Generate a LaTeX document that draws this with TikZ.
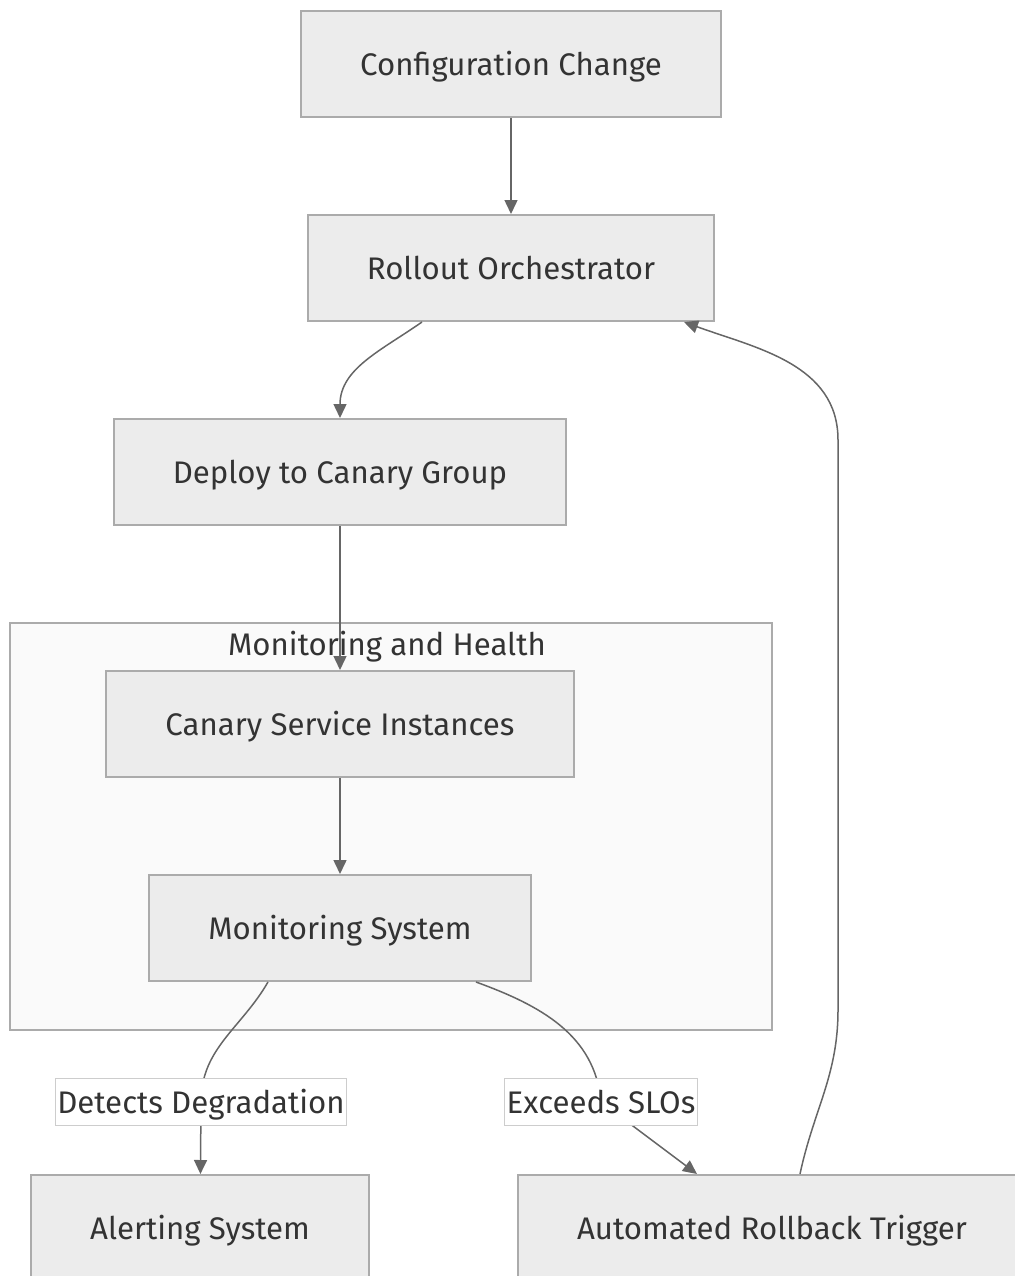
\documentclass[tikz,border=0pt]{standalone}
\usepackage{fontspec}
\setmainfont{Fira Sans}
\usetikzlibrary{positioning,arrows.meta}
\definecolor{boxfill}{HTML}{ECECEC}
\definecolor{boxline}{HTML}{ABABAB}
\definecolor{subfill}{HTML}{FAFAFA}
\definecolor{edge}{HTML}{666666}
\definecolor{ink}{HTML}{333333}
\begin{document}
\begin{tikzpicture}[main/.style = {draw=boxline, line width=2pt, fill=boxfill, text=ink,
            font=\fontsize{31.2}{37}\selectfont, inner xsep=59pt, minimum height=106pt,
            text height=28pt, text depth=5pt},
        lbl/.style = {draw=boxline!60, line width=1pt, fill=white, text=ink,
            font=\fontsize{31.2}{37}\selectfont, inner xsep=2pt, minimum height=47pt,
            text height=28pt, text depth=5pt},
        arr/.style = {draw=edge, line width=1.5pt, -{Triangle[length=14pt,width=13pt]}},
        node distance=204pt]
            \useasboundingbox (0,0) rectangle (1014pt,-1276pt);
            % subgraph
            \node[draw=boxline, line width=2pt, fill=subfill, minimum width=762pt,
                minimum height=407pt] (sub) at (391pt,-826.5pt) {};
            \node[text=ink, font=\fontsize{31.2}{37}\selectfont, below=6pt of sub.north,
                xshift=-4pt] {Monitoring and Health};
            \node[main] (1) at (511pt,-64pt) {Configuration Change};
            \node[main] (2) [below of=1] {Rollout Orchestrator};
            \node[main] (3) [below of=2, xshift=-171pt] {Deploy to Canary Group};
            \node[main] (4) [below of=3, yshift=-48pt] {Canary Service Instances};
            \node[main] (5) [below of=4] {Monitoring System};
            \node[main] (6) [below of=5, xshift=-140pt, yshift=-96pt] {Alerting System};
            \node[main] (7) [below of=5, xshift=432pt, yshift=-96pt] {Automated Rollback Trigger};
            \draw[arr] (1) -- (2);
            \draw[arr] ([xshift=-89pt]2.south) to[out=215, in=90] (3.north);
            \draw[arr] (3) -- (4);
            \draw[arr] (4) -- (5);
            \draw[arr] ([xshift=-72pt]5.south) to[out=240, in=90] (201pt,-1102pt)
                node[lbl] {Detects Degradation} -- (6);
            \draw[arr] ([xshift=136pt]5.south) to[out=-20, in=95] (601pt,-1102pt)
                node[lbl] {Exceeds SLOs} -- ([xshift=-75pt]7.north);
            \draw[arr] ([xshift=28pt]7.north) to[out=78, in=-90] (838pt,-1010pt)
                -- (838pt,-440pt) to[out=90, in=-20] ([xshift=173pt]2.south);
        \end{tikzpicture}
\end{document}
